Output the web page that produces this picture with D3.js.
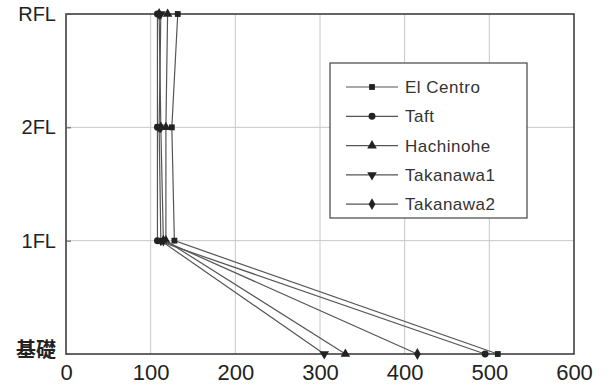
<!DOCTYPE html>
<html>
<head>
<meta charset="utf-8">
<script src="https://cdn.jsdelivr.net/npm/d3@7"></script>
<style>
  body { margin: 0; background: #fff; }
  svg { font-family: "Liberation Sans", Arial, sans-serif; }
</style>
</head>
<body>
<svg id="chart" width="608" height="392"></svg>
<script>
// floors from bottom to top
const floors = ["基礎", "1FL", "2FL", "RFL"];
const xTicks = [0, 100, 200, 300, 400, 500, 600];

const seriesNames = ["El Centro", "Taft", "Hachinohe", "Takanawa1", "Takanawa2"];
const elCentro  = [510, 128, 125, 132];
const taft      = [495, 108, 108, 108];
const hachinohe = [330, 118, 118, 120];
const takanawa1 = [305, 112, 110, 112];
const takanawa2 = [415, 115, 112, 110];

const seriesValues = [elCentro, taft, hachinohe, takanawa1, takanawa2];
const symbols = [d3.symbolSquare, d3.symbolCircle, d3.symbolTriangle, d3.symbolTriangle, d3.symbolDiamond];

const margin = { top: 14, right: 34, bottom: 38, left: 66 };
const width = 608, height = 392;

const svg = d3.select("#chart");

const x = d3.scaleLinear()
    .domain([0, 600])
    .range([margin.left, width - margin.right]);

const y = d3.scalePoint()
    .domain(floors)
    .range([height - margin.bottom, margin.top]);

// grid
svg.append("g")
    .selectAll("line")
    .data(xTicks.slice(1, -1))
    .enter().append("line")
    .attr("x1", d => x(d)).attr("x2", d => x(d))
    .attr("y1", y("RFL")).attr("y2", y("基礎"))
    .attr("stroke", "#c8c8c8")
    .attr("stroke-width", 1);

svg.append("g")
    .selectAll("line")
    .data(["1FL", "2FL"])
    .enter().append("line")
    .attr("x1", x(0)).attr("x2", x(600))
    .attr("y1", d => y(d)).attr("y2", d => y(d))
    .attr("stroke", "#c8c8c8")
    .attr("stroke-width", 1);

// frame
svg.append("rect")
    .attr("x", x(0)).attr("y", y("RFL"))
    .attr("width", x(600) - x(0))
    .attr("height", y("基礎") - y("RFL"))
    .attr("fill", "none")
    .attr("stroke", "#333")
    .attr("stroke-width", 1.5);

// axes
const xAxis = svg.append("g")
    .attr("transform", `translate(0, ${y("基礎")})`)
    .call(d3.axisBottom(x).tickValues(xTicks).tickSize(0).tickPadding(10));
xAxis.select(".domain").remove();
xAxis.selectAll("text")
    .attr("font-size", 22)
    .attr("fill", "#222")
    .attr("font-family", "Liberation Sans, Arial, sans-serif");

const yAxis = svg.append("g")
    .attr("transform", `translate(${x(0)}, 0)`)
    .call(d3.axisLeft(y).tickSize(5).tickPadding(5));
yAxis.select(".domain").remove();
yAxis.selectAll("line").attr("stroke", "#555").attr("x2", 5);
yAxis.selectAll("text")
    .attr("font-size", 20)
    .attr("fill", "#222")
    .attr("font-family", d => d === "基礎" ? "Noto Sans CJK JP" : "Liberation Sans, Arial, sans-serif")
    .attr("font-weight", d => d === "基礎" ? "bold" : "normal")
    .attr("dy", d => d === "基礎" ? "0.12em" : "0.32em");

// lines + markers
const line = d3.line()
    .x(d => x(d.v))
    .y(d => y(d.f));

function marker(i) {
    const size = i === 1 ? 38 : (i === 0 ? 34 : 40);
    return d3.symbol().type(symbols[i]).size(size)();
}

seriesValues.forEach((vals, i) => {
    const pts = vals.map((v, j) => ({ v: v, f: floors[j] }));
    svg.append("path")
        .datum(pts)
        .attr("d", line)
        .attr("fill", "none")
        .attr("stroke", "#555")
        .attr("stroke-width", 1.2);

    svg.append("g")
        .selectAll("path")
        .data(pts)
        .enter().append("path")
        .attr("d", marker(i))
        .attr("transform", d => `translate(${x(d.v)}, ${y(d.f)})` + (i === 3 ? " rotate(180)" : ""))
        .attr("fill", "#222");
});

// legend
const legend = svg.append("g").attr("transform", "translate(330, 63)");
legend.append("rect")
    .attr("width", 197).attr("height", 155)
    .attr("fill", "#fff")
    .attr("stroke", "#444")
    .attr("stroke-width", 1.2);

const items = legend.selectAll("g.item")
    .data(seriesNames)
    .enter().append("g")
    .attr("class", "item")
    .attr("transform", (d, i) => `translate(0, ${24 + i * 29.3})`);

items.append("line")
    .attr("x1", 16).attr("x2", 68)
    .attr("stroke", "#555").attr("stroke-width", 1.2);

items.append("path")
    .attr("d", (d, i) => marker(i))
    .attr("transform", (d, i) => "translate(42, 0)" + (i === 3 ? " rotate(180)" : ""))
    .attr("fill", "#222");

items.append("text")
    .attr("x", 75)
    .attr("dy", "0.35em")
    .attr("font-size", 17)
    .attr("fill", "#333")
    .attr("letter-spacing", "0.5px")
    .text(d => d);
</script>
</body>
</html>
